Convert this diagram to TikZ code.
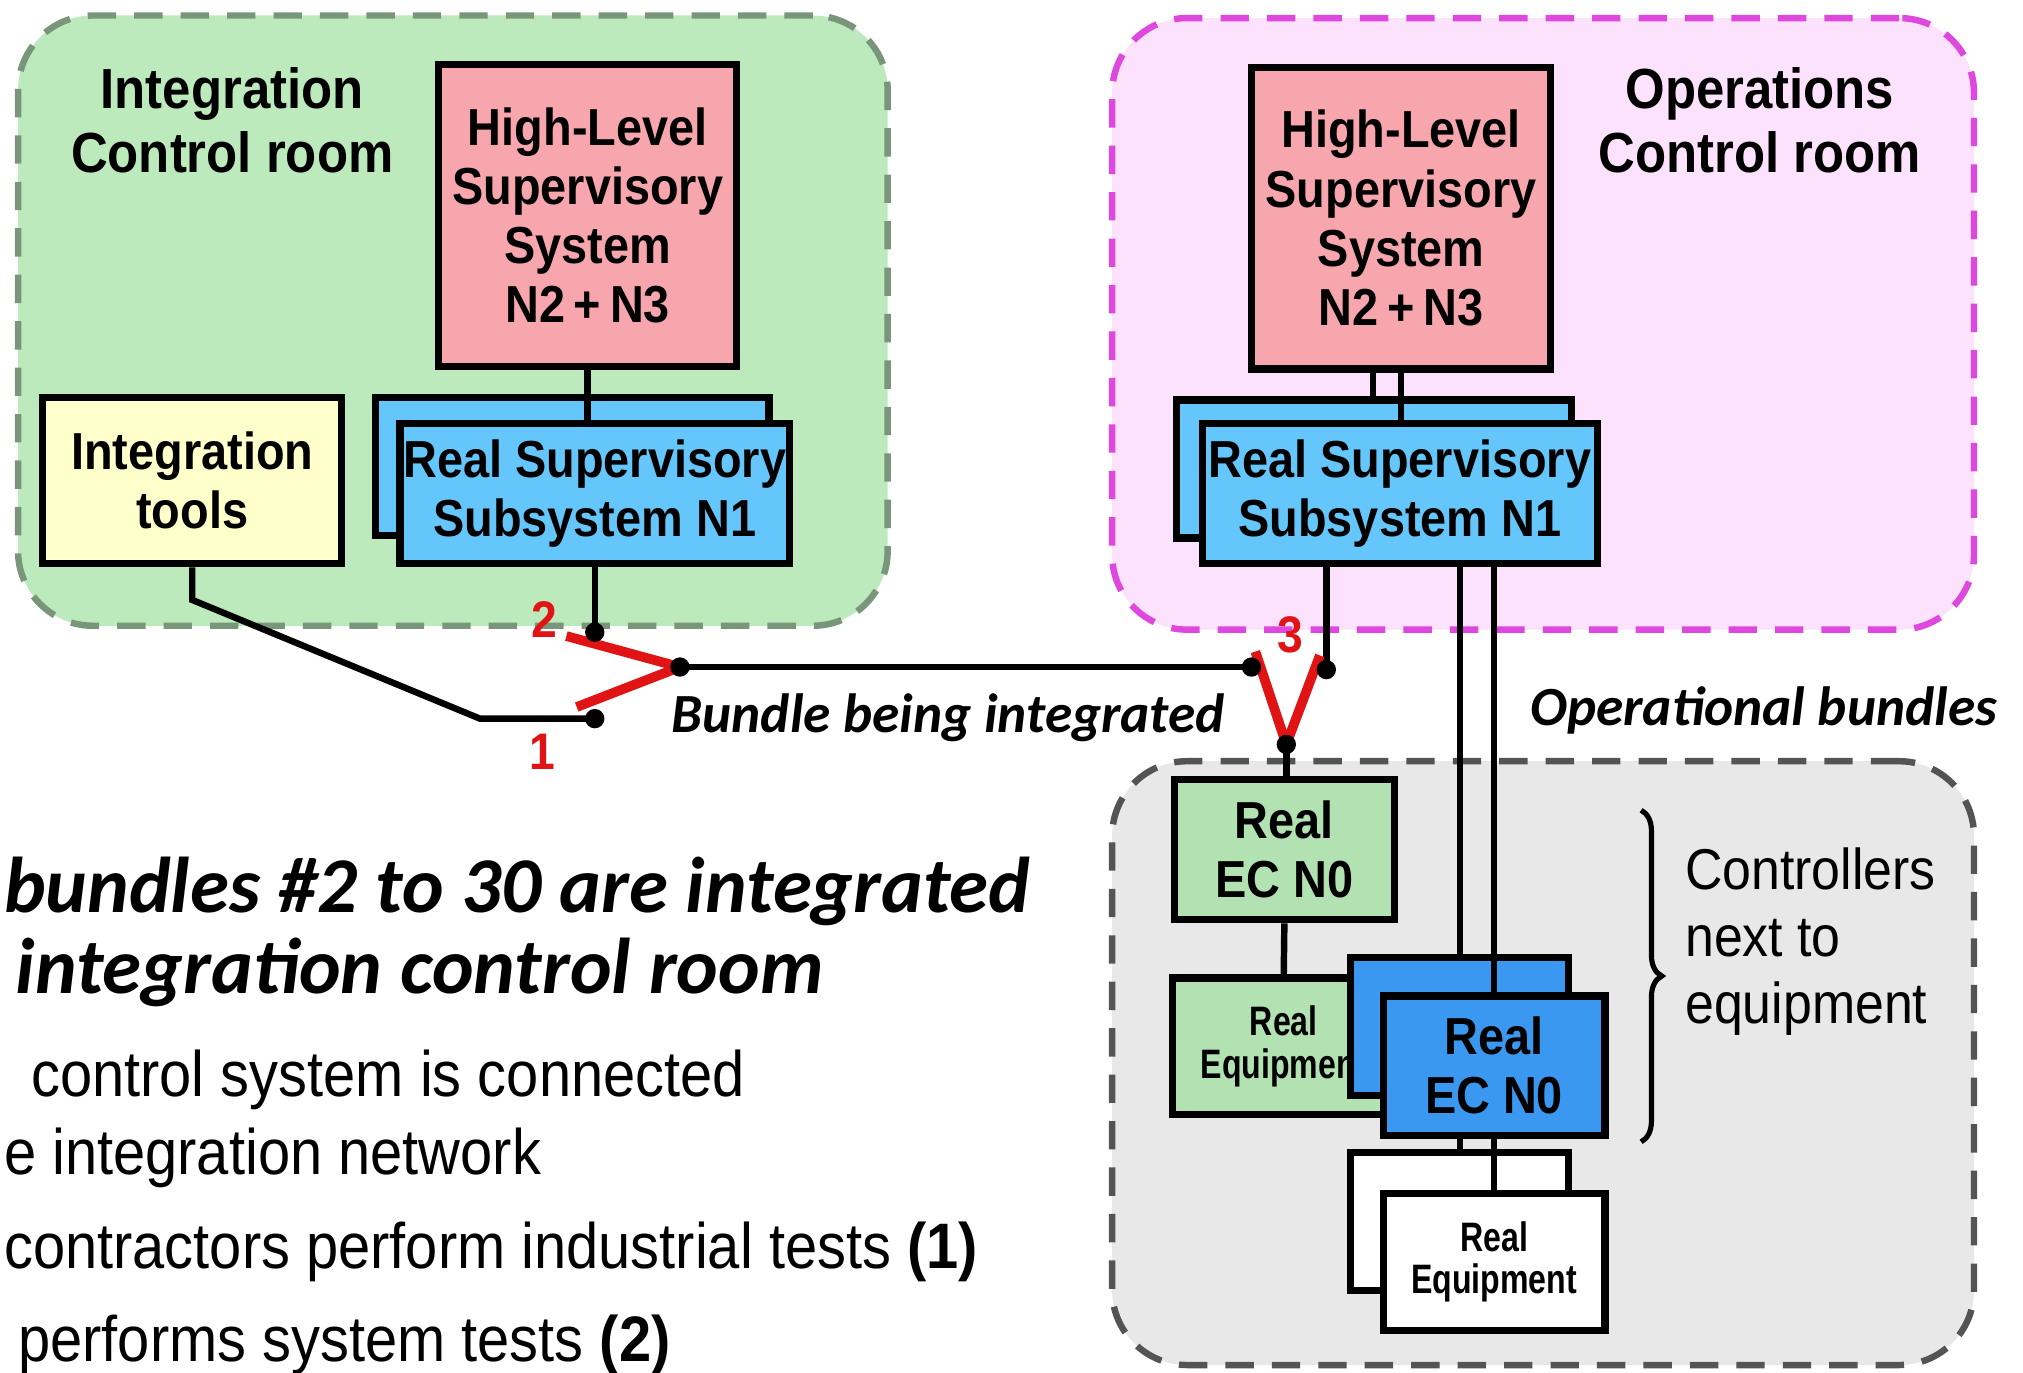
\documentclass[tikz,border=0pt]{standalone}
\usepackage{fontspec}
\setmainfont{Liberation Sans}
\newfontfamily\boxfont[FakeStretch=0.9]{Liberation Sans}
\newfontfamily\eqfont[FakeStretch=0.78]{Liberation Sans}
\newfontfamily\calfont{Carlito}
\usetikzlibrary{decorations.pathreplacing,calc}

\definecolor{intfill}{RGB}{188,234,188}
\definecolor{intline}{RGB}{122,150,122}
\definecolor{opsfill}{RGB}{252,226,252}
\definecolor{opsline}{RGB}{222,72,222}
\definecolor{fldfill}{RGB}{232,232,232}
\definecolor{fldline}{RGB}{84,84,84}
\definecolor{hlfill}{RGB}{248,166,174}
\definecolor{toolfill}{RGB}{255,255,204}
\definecolor{rsfill}{RGB}{100,198,250}
\definecolor{ecgfill}{RGB}{178,226,178}
\definecolor{ecbfill}{RGB}{58,152,240}
\definecolor{linkred}{RGB}{224,20,20}

\begin{document}
\begin{tikzpicture}[x=1bp,y=-1bp,
  room/.style={line width=5bp, dash pattern=on 22bp off 14bp, rounded corners=58bp, inner sep=0},
  box/.style={draw=black, line width=5.5bp, inner sep=0, align=center,
    font=\boxfont\bfseries\fontsize{40.5}{46}\selectfont},
  eqbox/.style={box, font=\eqfont\bfseries\fontsize{32}{33}\selectfont},
  wire/.style={line width=5bp},
  redlink/.style={draw=linkred, line width=7.5bp, line join=round},
  dot/.style={circle, fill=black, inner sep=0, minimum size=15bp},
  roomlabel/.style={align=center, inner sep=0, font=\boxfont\bfseries\fontsize{44}{50}\selectfont},
  bundlelabel/.style={inner sep=0, font=\calfont\bfseries\itshape\fontsize{43}{48}\selectfont},
  num/.style={inner sep=0, text=linkred, font=\boxfont\bfseries\fontsize{40}{44}\selectfont},
  heading/.style={inner sep=0, font=\calfont\bfseries\itshape\fontsize{61.5}{64}\selectfont},
  bodytext/.style={inner sep=0, font=\boxfont\fontsize{50}{58}\selectfont},
  sidetext/.style={inner sep=0, align=left, font=\boxfont\fontsize{44.8}{52}\selectfont}]

\useasboundingbox (0,0) rectangle (1568,1064);
\clip (0,0) rectangle (1568,1064);
\fill[white] (0,0) rectangle (1568,1064);

% rooms
\node[room, fill=intfill, draw=intline, minimum width=674bp, minimum height=473bp] (introom) at (351,248.5) {};
\node[room, fill=opsfill, draw=opsline, minimum width=668bp, minimum height=474bp] (opsroom) at (1196,251) {};
\node[room, fill=fldfill, draw=fldline, minimum width=668bp, minimum height=468bp] (fieldroom) at (1196,824) {};

\node[roomlabel] (intlabel) at (180,93) {Integration\\Control room};
\node[roomlabel] (opslabel) at (1364,93) {Operations\\Control room};

% integration control room
\node[box, fill=hlfill, minimum width=231bp, minimum height=234bp] (hlL) at (455.5,167)
  {High-Level\\Supervisory\\System\\N2\,+\,N3};
\node[box, fill=toolfill, minimum width=232bp, minimum height=129bp] (tools) at (149,372.5)
  {Integration\\tools};
\node[box, fill=rsfill, minimum width=305bp, minimum height=107bp] (rsLb) at (443.5,361.5) {};
\node[box, fill=rsfill, minimum width=302bp, minimum height=109bp] (rsLf) at (461,382.5)
  {Real Supervisory\\Subsystem N1};
\draw[wire] (hlL.south) -- (hlL.south |- rsLf.north);

% operations control room
\node[box, fill=hlfill, minimum width=232bp, minimum height=234bp] (hlR) at (1086,169)
  {High-Level\\Supervisory\\System\\N2\,+\,N3};
\node[box, fill=rsfill, minimum width=306bp, minimum height=107bp] (rsRb) at (1065,363.5) {};
\node[box, fill=rsfill, minimum width=306bp, minimum height=109bp] (rsRf) at (1085,382.5)
  {Real Supervisory\\Subsystem N1};
\draw[wire] (hlR.south) -- (hlR.south |- rsRf.north);
\draw[wire] ($(hlR.south)+(-22,0)$) -- ($(hlR.south |- rsRb.north)+(-22,0)$);

% field equipment
\node[box, fill=ecgfill, minimum width=171bp, minimum height=109bp] (ecG) at (995.5,658.5) {Real\\EC N0};
\node[eqbox, fill=ecgfill, minimum width=172bp, minimum height=106bp] (eqG) at (995,811) {Real\\Equipment};
\node[box, fill=ecbfill, minimum width=169bp, minimum height=107bp] (ecBb) at (1131.5,795.5) {};
\node[box, fill=ecbfill, minimum width=172bp, minimum height=108bp] (ecBf) at (1158,826) {Real\\EC N0};
\node[eqbox, fill=white, minimum width=169bp, minimum height=107bp] (eqWb) at (1131.5,946.5) {};
\node[eqbox, fill=white, minimum width=172bp, minimum height=106bp] (eqWf) at (1158,978) {Real\\Equipment};

\draw[wire] (ecG.south) -- (eqG.north);
\draw[wire] (rsRf.south -| ecBb.north) -- (ecBb.north);
\draw[wire] (rsRf.south -| ecBf.north) -- (ecBf.north);
\draw[wire] (ecBf.south -| eqWb.north) -- (eqWb.north);
\draw[wire] (ecBf.south) -- (eqWf.north);

% links between the rooms
\coordinate (j) at (527,517);
\coordinate (d2) at (461,490);
\coordinate (d1) at (461,557);
\coordinate (r2) at (439,493);
\coordinate (r1) at (447,548);
\coordinate (t1) at (149,465);
\coordinate (t2) at (372,557);
\coordinate (dl) at (970,517);
\coordinate (dr) at (1028,519);
\coordinate (dc) at (997,577);
\coordinate (s1) at (973,505);
\coordinate (s2) at (1023,508);

\draw[wire] (rsLf.south) -- (d2);
\draw[wire] (tools.south) -- (t1) -- (t2) -- (d1);
\draw[wire] (j) -- (dl);
\draw[wire] (rsRf.south -| dr) -- (dr);
\draw[wire] (dc) -- (dc |- ecG.north);

\draw[redlink] (r2) -- (j) -- (r1);
\draw[redlink] (s1) -- (dc) -- (s2);

\foreach \p in {j,d1,d2,dl,dr,dc}
  \node[dot] (dot-\p) at (\p) {};

\node[num] (num2) at (422,480) {2};
\node[num] (num1) at (420,583) {1};
\node[num] (num3) at (1000,492) {3};

\node[bundlelabel, anchor=base] (bundlelbl) at (735,568) {Bundle being integrated};
\node[bundlelabel, anchor=base] (opbundlelbl) at (1367,562) {Operational bundles};

% brace and side note
\draw[line width=4bp, decorate, decoration={brace, amplitude=16bp}] (1272,628) -- (1272,885);
\node[sidetext, anchor=west] (ctrlnote) at (1306,730) {Controllers\\next to\\equipment};

% text below the diagram
\node[heading, anchor=base west] (head1) at (3,707) {bundles \#2 to 30 are integrated};
\node[heading, anchor=base west] (head2) at (12,770) {integration control room};
\node[bodytext, anchor=base west] (body1) at (24,850) {control system is connected};
\node[bodytext, anchor=base west] (body2) at (3,910) {e integration network};
\node[bodytext, anchor=base west] (body3) at (3,983) {contractors perform industrial tests \textbf{(1)}};
\node[bodytext, anchor=base east] (body4) at (520,1055) {performs system tests \textbf{(2)}};

\end{tikzpicture}
\end{document}
